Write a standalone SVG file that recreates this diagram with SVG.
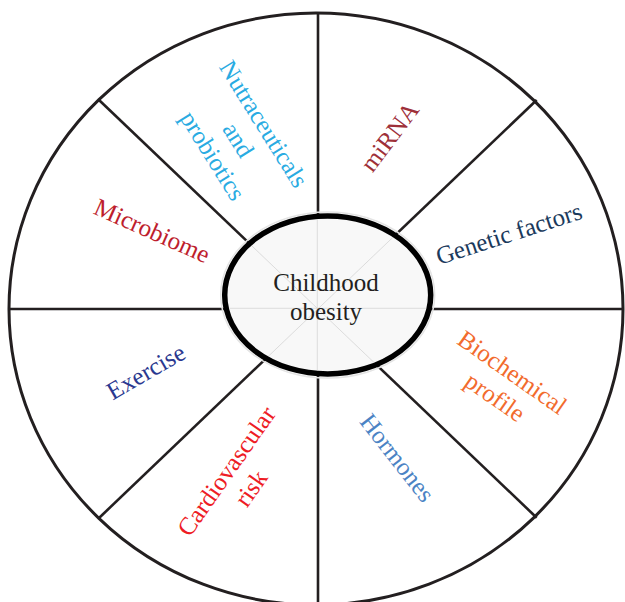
<svg xmlns="http://www.w3.org/2000/svg" width="625" height="602" viewBox="0 0 625 602">
<style>
.spoke{stroke:#231f20;stroke-width:2.6;fill:none}
.faint{stroke:#d4d4d4;stroke-width:0.8;fill:none}
.lbl{font-family:"Liberation Serif","Times New Roman",serif;font-size:25px;text-anchor:middle}
</style>
<defs>
<clipPath id="innerClip"><ellipse cx="327.7" cy="295" rx="100" ry="76"/></clipPath>
</defs>
<rect width="625" height="602" fill="#ffffff"/>
<g id="wheel">
<ellipse cx="316" cy="309" rx="307" ry="296" fill="none" stroke="#231f20" stroke-width="3"/>
</g>
<g id="connectors">
<line class="spoke" x1="318" y1="13" x2="318" y2="606"/>
<line class="spoke" x1="8" y1="309" x2="624" y2="309"/>
<line class="spoke" x1="99" y1="100" x2="536.7" y2="517.7"/>
<line class="spoke" x1="536.7" y1="100" x2="99.3" y2="517.7"/>
</g>
<g id="center-node">
<ellipse cx="327.7" cy="295" rx="107" ry="83" fill="none" stroke="#e4e4e4" stroke-width="1.5"/>
<ellipse cx="327.7" cy="295" rx="103" ry="79" fill="#f8f8f8" stroke="#000000" stroke-width="5.5"/>
<g clip-path="url(#innerClip)">
<line class="faint" x1="317.3" y1="200" x2="317.3" y2="400"/>
<line class="faint" x1="200" y1="308.3" x2="460" y2="308.3"/>
<line class="faint" x1="99" y1="100" x2="536.7" y2="517.7"/>
<line class="faint" x1="536.7" y1="100" x2="99.3" y2="517.7"/>
</g>
<text class="lbl" x="326" y="291" fill="#231f20">Childhood</text>
<text class="lbl" x="326" y="320" fill="#231f20">obesity</text>
</g>
<g id="nutraceuticals" transform="translate(238,140) rotate(58)">
<text class="lbl" y="-22" fill="#29abe2">Nutraceuticals</text>
<text class="lbl" y="8" fill="#29abe2">and</text>
<text class="lbl" y="38" fill="#29abe2">probiotics</text>
</g>
<g id="mirna" transform="translate(390,137) rotate(-53)">
<text class="lbl" y="8" fill="#9e3039">miRNA</text>
</g>
<g id="genetic-factors" transform="translate(509,234) rotate(-18)">
<text class="lbl" y="8" fill="#1b3a5c">Genetic factors</text>
</g>
<g id="biochemical-profile" transform="translate(503.5,385) rotate(35)">
<text class="lbl" y="-7" fill="#f26b2d">Biochemical</text>
<text class="lbl" y="23" fill="#f26b2d">profile</text>
</g>
<g id="hormones" transform="translate(397,458) rotate(52)">
<text class="lbl" y="8" fill="#4b83c4">Hormones</text>
</g>
<g id="cardiovascular-risk" transform="translate(239,480) rotate(-55)">
<text class="lbl" y="-7" fill="#ee1c25">Cardiovascular</text>
<text class="lbl" y="23" fill="#ee1c25">risk</text>
</g>
<g id="exercise" transform="translate(146,372) rotate(-30)">
<text class="lbl" y="8" fill="#2b3990">Exercise</text>
</g>
<g id="microbiome" transform="translate(152,231) rotate(24)">
<text class="lbl" y="8" fill="#be1e2d">Microbiome</text>
</g>
</svg>
